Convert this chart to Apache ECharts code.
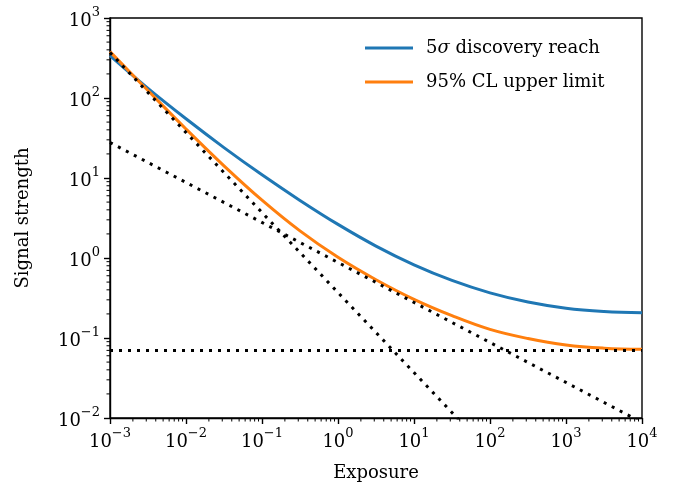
<!DOCTYPE html>
<html>
<head>
<meta charset="utf-8">
<script src="https://cdn.jsdelivr.net/npm/echarts@6/dist/echarts.min.js"></script>
<style>html,body{margin:0;padding:0;background:#fff}#c{width:673px;height:487px}</style>
</head>
<body>
<div id="c"></div>
<script>
// Exposure sample points (x)
const exposure = [1e-3, 3.16e-3, 1e-2, 3.16e-2, 1e-1, 3.16e-1, 1, 3.16, 10, 31.6, 100, 316, 1000, 3160, 1e4];
// 5 sigma discovery reach (blue)
const discovery = [339, 132, 55.0, 24.0, 10.96, 5.25, 2.63, 1.41, 0.822, 0.525, 0.367, 0.282, 0.236, 0.215, 0.207];
// 95% CL upper limit (orange)
const upperLimit = [380, 123.9, 41.0, 14.2, 5.28, 2.18, 1.02, 0.535, 0.304, 0.190, 0.128, 0.0984, 0.0818, 0.0746, 0.0721];
// dotted reference lines (endpoints)
const bgLevel = [[1e-3, 0.07], [1e4, 0.07]];
const steepLine = [[1e-3, 370], [100, 0.0037]];
const sqrtLine = [[1e-3, 27.8], [1e4, 0.0088]];
const seriesNames = ['5σ discovery reach', '95% CL upper limit'];
const xRange = [1e-3, 1e4];
const yRange = [1e-2, 1e3];

const FONT = 'DejaVu Serif';
const sup = (v) => {
  const e = Math.round(Math.log10(v));
  const s = e < 0 ? '\u2212' + (-e) : '' + e;
  return '{b|10}{s|' + s + '}';
};
const rich = {
  b: {fontFamily: FONT, fontSize: 18, color: '#000', lineHeight: 24, verticalAlign: 'bottom'},
  s: {fontFamily: FONT, fontSize: 13, color: '#000', lineHeight: 13, verticalAlign: 'top'}
};
const xMinor = [], yMinor = [];
for (let e = -3; e < 4; e++) for (let m = 2; m <= 9; m++) xMinor.push([m * Math.pow(10, e), yRange[0]]);
for (let e = -2; e < 3; e++) for (let m = 2; m <= 9; m++) yMinor.push([xRange[0], m * Math.pow(10, e)]);

const chart = echarts.init(document.getElementById('c'), null, {renderer: 'canvas'});
const dotted = {type: [3, 6], width: 3, color: '#000', cap: 'butt'};
chart.setOption({
  animation: false,
  grid: {left: 110, right: 31, top: 18, bottom: 67, show: true, borderColor: '#000', borderWidth: 1.4, backgroundColor: 'transparent'},
  legend: {
    data: seriesNames, orient: 'vertical', left: 360, top: 33,
    itemWidth: 48, itemHeight: 3, itemGap: 14, icon: 'rect',
    formatter: (n) => n.replace('σ', '{i|σ}'),
    textStyle: {fontFamily: FONT, fontSize: 18, color: '#000', lineHeight: 20, padding: [0, 0, 0, 8],
      rich: {i: {fontFamily: FONT, fontStyle: 'italic', fontSize: 18, lineHeight: 20}}}
  },
  xAxis: {
    type: 'log', logBase: 10, min: xRange[0], max: xRange[1], interval: 1,
    name: 'Exposure', nameLocation: 'middle', nameGap: 46,
    nameTextStyle: {fontFamily: FONT, fontSize: 18, color: '#000'},
    axisLine: {lineStyle: {color: '#000', width: 1.4}},
    axisTick: {show: true, inside: false, length: 6, lineStyle: {color: '#000', width: 1.4}},
    minorTick: {show: false}, splitLine: {show: false},
    axisLabel: {margin: 9, formatter: sup, rich: rich}
  },
  yAxis: {
    type: 'log', logBase: 10, min: yRange[0], max: yRange[1], interval: 1,
    name: 'Signal strength', nameLocation: 'middle', nameGap: 78, nameRotate: 90,
    nameTextStyle: {fontFamily: FONT, fontSize: 18, color: '#000'},
    axisLine: {lineStyle: {color: '#000', width: 1.4}},
    axisTick: {show: true, inside: false, length: 6, lineStyle: {color: '#000', width: 1.4}},
    minorTick: {show: false}, splitLine: {show: false},
    axisLabel: {margin: 10, formatter: sup, rich: rich}
  },
  series: [
    {name: seriesNames[0], type: 'line', data: exposure.map((x, i) => [x, discovery[i]]), smooth: 0.4, symbol: 'none',
      lineStyle: {color: '#1f77b4', width: 3}, itemStyle: {color: '#1f77b4'}, z: 3},
    {name: seriesNames[1], type: 'line', data: exposure.map((x, i) => [x, upperLimit[i]]), smooth: 0.4, symbol: 'none',
      lineStyle: {color: '#ff7f0e', width: 3}, itemStyle: {color: '#ff7f0e'}, z: 3},
    {name: 'bg', type: 'line', data: bgLevel, symbol: 'none', lineStyle: dotted, z: 4},
    {name: 'steep', type: 'line', data: steepLine, symbol: 'none', lineStyle: dotted, z: 4},
    {name: 'sqrt', type: 'line', data: sqrtLine, symbol: 'none', lineStyle: dotted, z: 4},
    {name: 'xminor', type: 'custom', data: xMinor, silent: true, clip: false, z: 5,
      renderItem: (p, api) => { const c = api.coord([api.value(0), api.value(1)]);
        return {type: 'line', shape: {x1: c[0], y1: c[1], x2: c[0], y2: c[1] + 3.5}, style: {stroke: '#000', lineWidth: 1}}; }},
    {name: 'yminor', type: 'custom', data: yMinor, silent: true, clip: false, z: 5,
      renderItem: (p, api) => { const c = api.coord([api.value(0), api.value(1)]);
        return {type: 'line', shape: {x1: c[0] - 3.5, y1: c[1], x2: c[0], y2: c[1]}, style: {stroke: '#000', lineWidth: 1}}; }}
  ]
});
</script>
</body>
</html>
